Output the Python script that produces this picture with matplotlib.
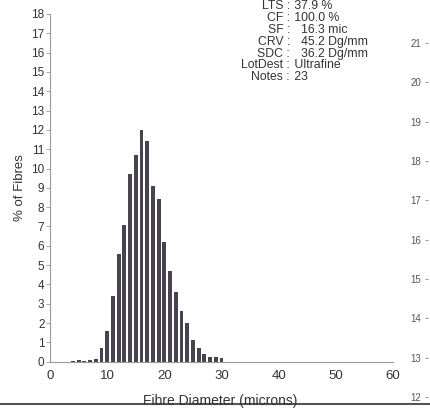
import matplotlib.pyplot as plt

plt.rcParams['font.family'] = ['Liberation Sans', 'DejaVu Sans']

# fibre diameter histogram (% of fibres per 1 micron class)
diameters = [4, 5, 6, 7, 8, 9, 10, 11, 12, 13, 14, 15, 16, 17, 18, 19, 20,
             21, 22, 23, 24, 25, 26, 27, 28, 29, 30]
percent = [0.05, 0.08, 0.06, 0.1, 0.12, 0.7, 1.6, 3.4, 5.6, 7.1, 9.7, 10.7,
           12.0, 11.4, 9.1, 8.4, 6.2, 4.7, 3.6, 2.6, 2.0, 1.1, 0.7, 0.4,
           0.25, 0.25, 0.2]

info_keys = ["LTS", "CF", "SF", "CRV", "SDC", "LotDest", "Notes"]
info_vals = ["37.9 %", "100.0 %", "  16.3 mic", "  45.2 Dg/mm", "  36.2 Dg/mm",
             "Ultrafine", "23"]

# neighbouring chart's axis, cut off at the right edge of the scan
side_ticks = [12, 13, 14, 15, 16, 17, 18, 19, 20, 21]

W, H = 430, 409
fig = plt.figure(figsize=(W / 100, H / 100), dpi=100)
ax = fig.add_axes([50 / W, 1 - 361.7 / H, 343 / W, 347.7 / H])

ax.bar(diameters, percent, width=0.68, color="#48434e", edgecolor="none")
ax.set_xlim(0, 60)
ax.set_ylim(0, 18)
ax.set_xticks(range(0, 61, 10))
ax.set_yticks(range(0, 19))
for s in ["top", "right"]:
    ax.spines[s].set_visible(False)
ax.spines["left"].set_color("#9a9a9a")
ax.spines["bottom"].set_color("#9a9a9a")
ax.spines["left"].set_linewidth(0.8)
ax.tick_params(axis="y", labelsize=8.5, length=3, width=0.6, color="#9a9a9a",
               labelcolor="#333333", pad=1)
ax.tick_params(axis="x", labelsize=9.5, length=0, labelcolor="#333333", pad=6)
ax.set_ylabel("% of Fibres", fontsize=9.5, color="#333333", labelpad=4)

fig.text(220 / W, (H - 401) / H, "Fibre Diameter (microns)", fontsize=10,
         color="#333333", ha="center", va="center")
fig.add_artist(plt.Line2D([0, 1], [(H - 404) / H] * 2, color="#555555",
                          lw=1.5, transform=fig.transFigure))

# info block at top right
for i, (k, v) in enumerate(zip(info_keys, info_vals)):
    y = 1 - (6 + 11.9 * i) / H
    fig.text(290 / W, y, k + " :", fontsize=8.8, color="#333333",
             ha="right", va="center")
    fig.text(291 / W, y, " " + v, fontsize=8.8, color="#333333",
             ha="left", va="center")

ax2 = fig.add_axes([428 / W, 1 - 397 / H, 0.001, 354 / H])
ax2.set_ylim(12, 21)
ax2.set_yticks(side_ticks)
ax2.set_xticks([])
for s in ["top", "right", "bottom", "left"]:
    ax2.spines[s].set_visible(False)
ax2.tick_params(axis="y", labelsize=7, length=2, color="#999999",
                labelcolor="#555555", pad=3)

fig.savefig("out.png", dpi=100)
